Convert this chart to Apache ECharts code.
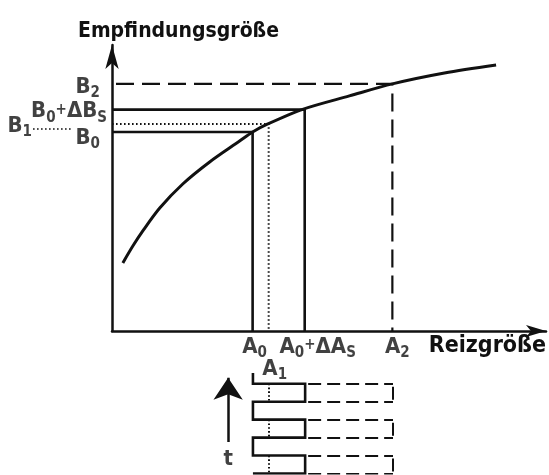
<!DOCTYPE html>
<html>
<head>
<meta charset="utf-8">
<script src="https://cdn.jsdelivr.net/npm/echarts@6/dist/echarts.min.js"></script>
<style>html,body{margin:0;padding:0;background:#fff}#c{width:549px;height:475px}</style>
</head>
<body>
<div id="c"></div>
<script>
// ---- data (arbitrary units) ----
const curveX = [2.5, 4.8, 7.1, 11.0, 16.3, 22.5, 29.4, 32.4, 35.9, 44.1, 54.7, 64.6, 76.6, 88.5];
const curveY = [23.8, 29.7, 35.0, 43.0, 51.4, 59.1, 66.4, 69.6, 72.4, 77.6, 82.2, 86.4, 90.2, 93.0];
// stimulus levels A0, A1, A0+ΔAs, A2
const stimulusValues = [32.4, 36.1, 44.4, 64.6];
// sensation levels B0, B1, B0+ΔBs, B2
const sensationValues = [69.6, 72.4, 77.4, 86.4];
// time levels of the stimulus pulse train (lower diagram)
const pulseLevels = [5, 4, 3, 2, 1, 0];
const pulseTop = 5.6;
const yName = 'Empfindungsgröße';
const xName = 'Reizgröße';

const [A0, A1, AS, A2] = stimulusValues;
const [B0, B1, BS, B2] = sensationValues;

const FONT = '"DejaVu Sans Condensed", "DejaVu Sans", sans-serif';
const INK = '#111';
const rich = {
  m: {fontFamily: FONT, fontWeight: 'bold', fontSize: 22, color: INK, lineHeight: 22, verticalAlign: 'top'},
  s: {fontFamily: FONT, fontWeight: 'bold', fontSize: 15, color: INK, lineHeight: 16, verticalAlign: 'top', padding: [10, 0, 0, 0]},
  p: {fontFamily: FONT, fontWeight: 'bold', fontSize: 15, color: INK, lineHeight: 16, verticalAlign: 'top', padding: [2, 0, 0, 0]}
};

// pulse train polyline
const pulse = [[A0, pulseTop]];
pulseLevels.forEach((lv, i) => {
  if (i % 2 === 0) { pulse.push([A0, lv], [AS, lv]); }
  else { pulse.push([AS, lv], [A0, lv]); }
});
const dashedExt = pulseLevels.map(lv => ({coords: [[AS, lv], [A2, lv]]}));
const dashedRight = [], dottedA1 = [];
for (let i = 0; i + 1 < pulseLevels.length; i += 2) {
  dashedRight.push({coords: [[A2, pulseLevels[i]], [A2, pulseLevels[i + 1]]]});
  dottedA1.push({coords: [[A1, pulseLevels[i]], [A1, pulseLevels[i + 1]]]});
}

const chart = echarts.init(document.getElementById('c'), null, {renderer: 'canvas'});
const leaderY = 70.6;

chart.setOption({
  animation: false,
  backgroundColor: '#fff',
  title: {
    text: yName, left: 73, top: 16,
    textStyle: {fontFamily: FONT, fontWeight: 'bold', fontSize: 21, color: INK}
  },
  grid: [
    {left: 112, right: 2, top: 45, bottom: 144},
    {left: 112, right: 2, top: 373, bottom: 1.5}
  ],
  xAxis: [
    {type: 'value', gridIndex: 0, min: 0, max: 100,
     axisLine: {lineStyle: {color: INK, width: 2.5}, symbol: ['none', 'arrow'], symbolSize: [9, 20]},
     axisTick: {show: false}, axisLabel: {show: false}, splitLine: {show: false},
     name: xName, nameLocation: 'end', nameGap: 0,
     nameTextStyle: {fontFamily: FONT, fontWeight: 'bold', fontSize: 23, color: INK, align: 'right', verticalAlign: 'top', padding: [4, 0, 0, 0]}},
    {type: 'value', gridIndex: 1, min: 0, max: 100, show: false}
  ],
  yAxis: [
    {type: 'value', gridIndex: 0, min: 0, max: 100,
     axisLine: {lineStyle: {color: INK, width: 2.5}, symbol: ['none', 'arrow'], symbolSize: [10, 24]},
     axisTick: {show: false}, axisLabel: {show: false}, splitLine: {show: false}},
    {type: 'value', gridIndex: 1, min: 0, max: pulseTop, show: false}
  ],
  series: [
    {type: 'line', xAxisIndex: 0, yAxisIndex: 0, smooth: 0.3, symbol: 'none',
     lineStyle: {color: INK, width: 3},
     data: curveX.map((x, i) => [x, curveY[i]])},
    {type: 'lines', coordinateSystem: 'cartesian2d', xAxisIndex: 0, yAxisIndex: 0, polyline: true,
     lineStyle: {color: INK, width: 2.6, opacity: 1},
     data: [
       {coords: [[0, B0], [A0, B0], [A0, 0]]},
       {coords: [[0, BS], [AS, BS], [AS, 0]]},
       {coords: [[0, B1], [A1, B1], [A1, 0]], lineStyle: {type: [1.6, 2.4], width: 2}},
       {coords: [[0, B2], [A2, B2], [A2, 0]], lineStyle: {type: [18, 8], dashOffset: 22, width: 2.2}}
     ]},
    {type: 'lines', coordinateSystem: 'cartesian2d', xAxisIndex: 0, yAxisIndex: 0, clip: false,
     lineStyle: {color: INK, width: 1.6, type: [1.6, 2.4], opacity: 1},
     data: [{coords: [[-18.2, leaderY], [-9.2, leaderY]]}]},
    {type: 'lines', coordinateSystem: 'cartesian2d', xAxisIndex: 1, yAxisIndex: 1, polyline: true,
     lineStyle: {color: INK, width: 2.6, opacity: 1},
     data: [{coords: pulse}]},
    {type: 'lines', coordinateSystem: 'cartesian2d', xAxisIndex: 1, yAxisIndex: 1,
     lineStyle: {color: INK, width: 2, type: [13, 6], dashOffset: 16, opacity: 1},
     data: dashedExt.concat(dashedRight)},
    {type: 'lines', coordinateSystem: 'cartesian2d', xAxisIndex: 1, yAxisIndex: 1,
     lineStyle: {color: INK, width: 2, type: [1.6, 2.2], opacity: 1},
     data: dottedA1},
    {type: 'lines', coordinateSystem: 'cartesian2d', xAxisIndex: 1, yAxisIndex: 1,
     symbol: ['none', 'arrow'], symbolSize: [10, 22],
     lineStyle: {color: INK, width: 2.5, opacity: 1},
     data: [{coords: [[26.7, 1.76], [26.7, 5.33]]}]},
    {type: 'scatter', xAxisIndex: 1, yAxisIndex: 1, symbolSize: 0, silent: true,
     label: {show: true, position: 'inside', formatter: 't', fontFamily: FONT, fontWeight: 'bold', fontSize: 22, color: INK},
     data: [[26.7, 0.82]]},
    {type: 'scatter', xAxisIndex: 0, yAxisIndex: 0, symbolSize: 0, silent: true, clip: false,
     label: {show: true, rich: rich, color: INK, fontFamily: FONT, fontWeight: 'bold', fontSize: 22},
     data: [
       {value: [0, B2], label: {position: 'left', distance: 12, offset: [0, 3], formatter: '{m|B}{s|2}'}},
       {value: [0, BS], label: {position: 'left', distance: 5, offset: [0, 2], formatter: '{m|B}{s|0}{p|+}{m|ΔB}{s|S}'}},
       {value: [0, B0], label: {position: 'left', distance: 12, offset: [0, 6], formatter: '{m|B}{s|0}'}},
       {value: [-18.2, leaderY], label: {position: 'left', distance: 1, offset: [0, -3], formatter: '{m|B}{s|1}'}},
       {value: [A0, 0], label: {position: 'bottom', distance: 5, offset: [2, 0], formatter: '{m|A}{s|0}'}},
       {value: [AS, 0], label: {position: 'bottom', distance: 5, offset: [13, 0], formatter: '{m|A}{s|0}{p|+}{m|ΔA}{s|S}'}},
       {value: [A2, 0], label: {position: 'bottom', distance: 5, offset: [5, 0], formatter: '{m|A}{s|2}'}},
       {value: [A1, 0], label: {position: 'bottom', distance: 27, offset: [6, 0], formatter: '{m|A}{s|1}'}}
     ]}
  ]
});
</script>
</body>
</html>
